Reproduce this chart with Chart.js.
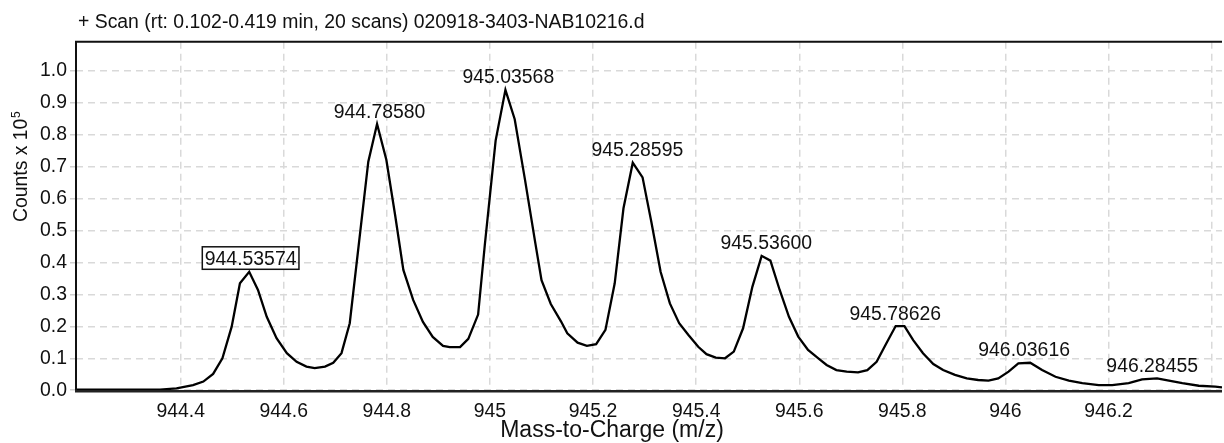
<!DOCTYPE html>
<html>
<head>
<meta charset="utf-8">
<script src="https://cdn.jsdelivr.net/npm/chart.js@4/dist/chart.umd.min.js"></script>
<style>
  html, body { margin: 0; padding: 0; background: #fff; }
  #wrap { width: 1224px; height: 443px; }
</style>
</head>
<body>
<div id="wrap"><canvas id="spec"></canvas></div>
<script>
// profile spectrum, m/z and counts (x 10^5)
const mz = [
  944.197, 944.215, 944.232, 944.250, 944.267, 944.285, 944.302, 944.320, 944.337, 944.360,
  944.392, 944.424, 944.444, 944.463, 944.481, 944.499, 944.515, 944.533, 944.550, 944.567,
  944.586, 944.606, 944.625, 944.644, 944.660, 944.680, 944.696, 944.712, 944.728, 944.764,
  944.781, 944.799, 944.816, 944.832, 944.851, 944.870, 944.889, 944.909, 944.922, 944.942,
  944.958, 944.977, 944.990, 945.011, 945.030, 945.048, 945.068, 945.088, 945.100, 945.118,
  945.138, 945.150, 945.170, 945.188, 945.206, 945.224, 945.242, 945.259, 945.277, 945.296,
  945.313, 945.331, 945.349, 945.367, 945.385, 945.404, 945.420, 945.438, 945.456, 945.473,
  945.491, 945.509, 945.527, 945.544, 945.562, 945.580, 945.598, 945.617, 945.637, 945.653,
  945.672, 945.692, 945.714, 945.732, 945.750, 945.769, 945.787, 945.804, 945.821, 945.840,
  945.860, 945.879, 945.902, 945.925, 945.947, 945.967, 945.986, 946.006, 946.025, 946.048,
  946.071, 946.097, 946.123, 946.149, 946.181, 946.207, 946.239, 946.265, 946.294, 946.317,
  946.343, 946.375, 946.407, 946.420
];
const counts = [
  0.002, 0.002, 0.002, 0.002, 0.002, 0.002, 0.002, 0.002, 0.002, 0.002,
  0.006, 0.016, 0.027, 0.051, 0.100, 0.199, 0.335, 0.371, 0.314, 0.230,
  0.163, 0.116, 0.089, 0.074, 0.069, 0.074, 0.086, 0.116, 0.210, 0.716,
  0.834, 0.722, 0.549, 0.377, 0.283, 0.214, 0.167, 0.139, 0.135, 0.135,
  0.161, 0.237, 0.455, 0.782, 0.941, 0.849, 0.659, 0.461, 0.345, 0.270,
  0.215, 0.178, 0.149, 0.139, 0.144, 0.189, 0.335, 0.570, 0.713, 0.667,
  0.528, 0.371, 0.272, 0.210, 0.173, 0.136, 0.113, 0.102, 0.100, 0.121,
  0.194, 0.324, 0.421, 0.406, 0.314, 0.230, 0.168, 0.126, 0.100, 0.079,
  0.063, 0.058, 0.056, 0.063, 0.089, 0.147, 0.201, 0.201, 0.157, 0.116,
  0.082, 0.063, 0.048, 0.037, 0.032, 0.030, 0.037, 0.058, 0.084, 0.086,
  0.063, 0.042, 0.030, 0.022, 0.016, 0.016, 0.022, 0.034, 0.037, 0.030,
  0.022, 0.014, 0.011, 0.009
];
const xTicks = [944.4, 944.6, 944.8, 945.0, 945.2, 945.4, 945.6, 945.8, 946.0, 946.2, 946.4];
const yTicks = [0, 0.1, 0.2, 0.3, 0.4, 0.5, 0.6, 0.7, 0.8, 0.9, 1.0];
const peakLabels = ['944.53574', '944.78580', '945.03568', '945.28595', '945.53600',
                    '945.78626', '946.03616', '946.28455'];
const boxedPeak = '944.53574';

const titleText = '+ Scan (rt: 0.102-0.419 min, 20 scans) 020918-3403-NAB10216.d';
const FONT = '"Liberation Sans", Arial, sans-serif';

const decor = {
  id: 'decor',
  beforeDraw(chart) {
    const c = chart.ctx;
    c.save();
    c.fillStyle = '#fff';
    c.fillRect(0, 0, chart.width, chart.height);
    c.restore();
  },
  afterDatasetsDraw(chart) {
    const c = chart.ctx, a = chart.chartArea;
    const xs = chart.scales.x, ys = chart.scales.y;
    c.save();
    // frame
    c.strokeStyle = '#111';
    c.lineWidth = 2;
    c.beginPath();
    c.moveTo(a.left, a.bottom + 1);
    c.lineTo(a.left, a.top);
    c.lineTo(a.right, a.top);
    c.stroke();
    c.lineWidth = 2.5;
    c.strokeStyle = '#222';
    c.beginPath();
    c.moveTo(a.left - 1, a.bottom + 1);
    c.lineTo(a.right, a.bottom + 1);
    c.stroke();

    // peak labels
    c.font = '19.4px ' + FONT;
    c.fillStyle = '#111';
    c.textAlign = 'center';
    c.textBaseline = 'alphabetic';
    peakLabels.forEach(lbl => {
      const m = parseFloat(lbl);
      let top = 0;
      mz.forEach((v, i) => { if (Math.abs(v - m) < 0.03 && counts[i] > top) top = counts[i]; });
      const px = xs.getPixelForValue(m);
      const py = ys.getPixelForValue(top) - 6.5;
      c.fillText(lbl, px, py);
      if (lbl === boxedPeak) {
        const w = c.measureText(lbl).width;
        c.lineWidth = 1.5;
        c.strokeStyle = '#111';
        c.strokeRect(px - w / 2 - 2.5, py - 18.5, w + 5, 22.5);
      }
    });
    c.restore();
  },
  afterDraw(chart) {
    const c = chart.ctx;
    c.save();
    c.fillStyle = '#111';
    c.textBaseline = 'alphabetic';
    // top title
    c.font = '19.4px ' + FONT;
    c.textAlign = 'left';
    c.fillText(titleText, 78, 28);
    // x axis title
    c.font = '23px ' + FONT;
    c.textAlign = 'center';
    c.fillText('Mass-to-Charge (m/z)', 612, 437);
    // y axis title with superscript
    c.translate(27, 167);
    c.rotate(-Math.PI / 2);
    c.font = '19.4px ' + FONT;
    const main = 'Counts x 10';
    const w1 = c.measureText(main).width;
    c.font = '12px ' + FONT;
    const w2 = c.measureText('5').width;
    const start = -(w1 + w2) / 2;
    c.font = '19.4px ' + FONT;
    c.textAlign = 'left';
    c.fillText(main, start, 0);
    c.font = '12px ' + FONT;
    c.fillText('5', start + w1 + 0.5, -7);
    c.restore();
  }
};

new Chart(document.getElementById('spec'), {
  type: 'line',
  data: {
    datasets: [{
      data: mz.map((v, i) => ({ x: v, y: counts[i] })),
      borderColor: '#000',
      borderWidth: 2.3,
      pointRadius: 0,
      tension: 0,
      fill: false
    }]
  },
  options: {
    responsive: true,
    maintainAspectRatio: false,
    animation: false,
    events: [],
    layout: { padding: { top: 41.7, right: 2, left: 0, bottom: 0 } },
    plugins: { legend: { display: false }, tooltip: { enabled: false }, title: { display: false } },
    scales: {
      x: {
        type: 'linear',
        min: 944.197,
        max: 946.42,
        afterBuildTicks: s => { s.ticks = xTicks.map(v => ({ value: v })); },
        afterFit: s => { s.height = 443 - 390.2; },
        grid: { color: '#d9d9d9', lineWidth: 1.5, drawTicks: false },
        border: { display: false, dash: [7, 5] },
        ticks: {
          autoSkip: false,
          maxRotation: 0,
          padding: 10,
          color: '#111',
          font: { family: FONT, size: 19.4 },
          callback: v => (v > 946.3 ? '' : String(parseFloat(v.toFixed(1))))
        }
      },
      y: {
        min: 0,
        max: 1.092,
        afterBuildTicks: s => { s.ticks = yTicks.map(v => ({ value: v })); },
        afterFit: s => { s.width = 76; },
        grid: { color: '#d9d9d9', lineWidth: 1.5, tickLength: 6, tickColor: '#d0d0d0' },
        border: { display: false, dash: [7, 5] },
        ticks: {
          padding: 3,
          color: '#111',
          font: { family: FONT, size: 19.4 },
          callback: v => v.toFixed(1)
        }
      }
    }
  },
  plugins: [decor]
});
</script>
</body>
</html>
